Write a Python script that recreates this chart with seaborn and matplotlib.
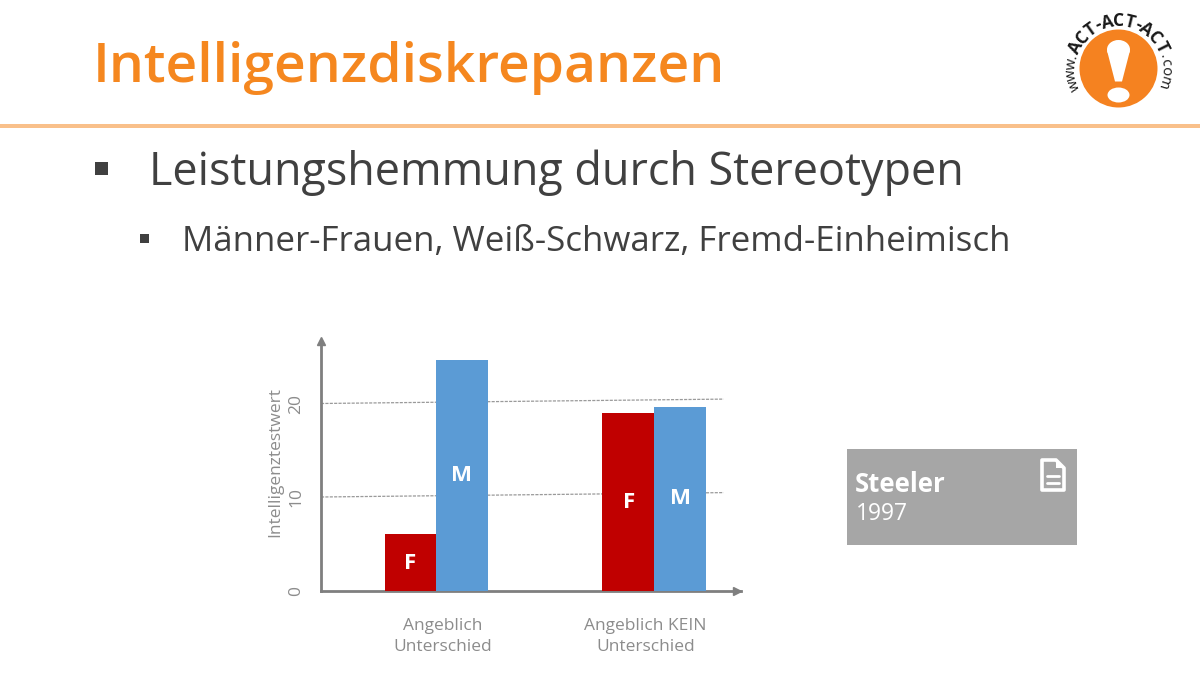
import numpy as np
import pandas as pd
import matplotlib
matplotlib.use("Agg")
import matplotlib.pyplot as plt
from matplotlib.patches import Rectangle, Polygon, Ellipse
import seaborn as sns

categories = ["A", "B"]
tick_labels = ["Angeblich\nUnterschied", "Angeblich KEIN\nUnterschied"]
female = [6.0, 19.0]
male = [24.6, 19.6]
y_ticks = [0, 10, 20]
GREY = "#7F7F7F"

sns.set_theme(style="white")
plt.rcParams["font.family"] = ["Open Sans", "DejaVu Sans"]

W, H = 1200, 675
fig = plt.figure(figsize=(12, 6.75), dpi=100, facecolor="white")

# page overlay in pixel coordinates
pg = fig.add_axes([0, 0, 1, 1], zorder=0)
pg.set_xlim(0, W); pg.set_ylim(H, 0); pg.axis("off")

pg.text(93, 68, "Intelligenzdiskrepanzen", color="#F5871F", fontsize=39.7,
        fontweight="semibold", va="center", ha="left")
pg.add_patch(Rectangle((0, 124), W, 4, color="#F9C08A", lw=0))
pg.add_patch(Rectangle((95, 162), 13, 13, color="#404040", lw=0))
pg.text(149, 173, "Leistungshemmung durch Stereotypen", color="#404040",
        fontsize=32.3, va="center", ha="left")
pg.add_patch(Rectangle((140, 234), 9, 9, color="#404040", lw=0))
pg.text(182, 242, "Männer-Frauen, Weiß-Schwarz, Fremd-Einheimisch", color="#404040",
        fontsize=25.1, va="center", ha="left")

# citation box
pg.add_patch(Rectangle((847, 449), 230, 96, color="#A6A6A6", lw=0))
pg.text(855, 485, "Steeler", color="white", fontsize=18.5, fontweight="bold", va="center")
pg.text(856, 514, "1997", color="white", fontsize=16.5, va="center")
pg.add_patch(Polygon([(1042, 460), (1056, 460), (1064, 468), (1064, 490), (1042, 490)],
                     closed=True, fill=False, ec="white", lw=2.6, joinstyle="round"))
pg.add_patch(Polygon([(1056, 460), (1056, 468), (1064, 468)], closed=True, color="white", lw=0))
pg.plot([1047, 1059], [476, 476], color="white", lw=2)
pg.plot([1047, 1059], [483, 483], color="white", lw=2)

# logo
cx, cy, r = 1118.5, 68.5, 39
pg.add_patch(Ellipse((cx, cy), 2 * r, 2 * r, color="#F58220", lw=0))
pg.add_patch(Ellipse((cx, cy - 19), 23, 19, color="white", lw=0))
pg.add_patch(Polygon([(cx - 11.5, cy - 18), (cx + 11.5, cy - 18), (cx + 3.5, cy + 13), (cx - 3.5, cy + 13)],
                     closed=True, color="white", lw=0))
pg.add_patch(Ellipse((cx, cy + 26.5), 22, 15, color="white", lw=0))

ADV = {"w": 1.25, ".": 0.45, "-": 0.6, "c": 0.8, "o": 0.95, "m": 1.4}


def ring(text, start, end, size, weight, radius):
    adv = np.array([ADV.get(c, 1.0) for c in text])
    pos = np.cumsum(adv) - adv / 2
    angles = start + (end - start) * pos / adv.sum()
    for ch, deg in zip(text, angles):
        a = np.deg2rad(deg)
        pg.text(cx + radius * np.sin(a), cy - radius * np.cos(a), ch, rotation=-deg,
                rotation_mode="anchor", ha="center", va="center", fontsize=size,
                fontweight=weight, color="#1A1A1A")


ring("www.", -117, -73, 10.5, "normal", 47)
ring("ACT-ACT-ACT", -70, 70, 12.5, "bold", 47.5)
ring(".com", 72, 116, 10.5, "normal", 47)

# chart
ax = fig.add_axes([321 / W, 1 - 590.5 / H, 420 / W, 250 / H], zorder=1)
ax.patch.set_alpha(0)
df = pd.DataFrame({
    "cat": categories * 2,
    "val": female + male,
    "sex": ["F"] * len(female) + ["M"] * len(male),
})
sns.barplot(data=df, x="cat", y="val", hue="sex", hue_order=["F", "M"],
            palette={"F": "#C00000", "M": "#5B9BD5"}, width=0.474, gap=0,
            saturation=1, legend=False, ax=ax, zorder=3, linewidth=0)
ax.set_xlim(-0.531, 1.4)
ax.set_ylim(0, 250 / 9.35)
ax.set_xlabel(""); ax.set_ylabel("")

# value gridlines (slightly tilted, as in the reference)
x0, x1 = -0.531, 1.32
for v in y_ticks[1:]:
    ax.plot([x0, x1], [v, v + 0.47], color="#9A9A9A", lw=0.9, ls=(0, (2.5, 1)), zorder=1)

for s in ["top", "right"]:
    ax.spines[s].set_visible(False)
for s in ["left", "bottom"]:
    ax.spines[s].set_color(GREY)
    ax.spines[s].set_linewidth(2)
ax.plot(0.99, 0, marker=">", color=GREY, ms=6, transform=ax.transAxes, clip_on=False, zorder=5)
ax.plot(0, 1, marker="^", color=GREY, ms=6, transform=ax.transAxes, clip_on=False, zorder=5)

ax.set_xticks([0.03, 0.96], tick_labels, color="#8C8C8C", fontsize=12.5, linespacing=1.4)
ax.tick_params(axis="x", length=0, pad=20)
ax.set_yticks(y_ticks, [str(v) for v in y_ticks], rotation=90, va="center", color="#8C8C8C", fontsize=12.5)
ax.tick_params(axis="y", length=0, pad=12)
ax.set_ylabel("Intelligenztestwert", color="#8C8C8C", fontsize=12.5)
ax.yaxis.set_label_coords(-0.09, 0.515)
ax.grid(False)

# F / M labels
for container, name, ys in zip(ax.containers, ["F", "M"], [[2.9, 9.4], [12.3, 9.8]]):
    for bar, y, dx in zip(container, ys, [-0.005, 0.003]):
        ax.text(bar.get_x() + bar.get_width() / 2 + dx, y, name, color="white", fontsize=16,
                fontweight="bold", ha="center", va="center", zorder=6)

fig.savefig("out.png", dpi=100, facecolor="white")
